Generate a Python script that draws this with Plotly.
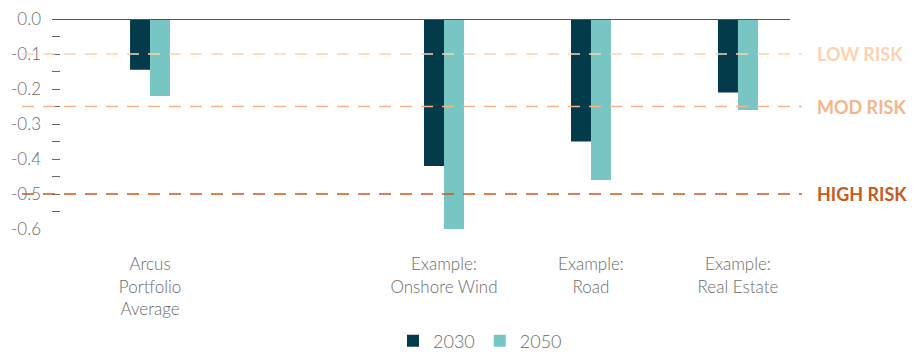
import plotly.graph_objects as go

categories = ["Arcus<br>Portfolio<br>Average", " ", "Example:<br>Onshore Wind", "Example:<br>Road", "Example:<br>Real Estate"]
series_names = ["2030", "2050"]
v2030 = [-0.145, None, -0.42, -0.35, -0.21]
v2050 = [-0.22, None, -0.60, -0.46, -0.26]
ytick_vals = [0, -0.1, -0.2, -0.3, -0.4, -0.5, -0.6]
ytick_text = ["0.0", "-0.1", "-0.2", "-0.3", "-0.4", "-0.5", "-0.6"]
risk_levels = [-0.1, -0.25, -0.5]
risk_labels = ["LOW RISK", "MOD RISK", "HIGH RISK"]
risk_colors = ["#fbd3b3", "#f5b58a", "#c85a1c"]

FONT = "Lato"
GRAY = "#6b6b6b"

fig = go.Figure()
fig.add_trace(go.Bar(x=categories, y=v2030, name=series_names[0], marker_color="#043b4b", marker_line_width=0))
fig.add_trace(go.Bar(x=categories, y=v2050, name=series_names[1], marker_color="#77c6c4", marker_line_width=0))

L, R = 52, 790
W = R - L
for lvl, lab, col in zip(risk_levels, risk_labels, risk_colors):
    fig.add_shape(type="line", xref="paper", yref="y", x0=(22 - L) / W, x1=(802 - L) / W,
                  y0=lvl, y1=lvl, line=dict(color=col, width=1.5, dash="12px,9px"), layer="above")
    fig.add_annotation(xref="paper", yref="y", x=(815 - L) / W, y=lvl, text="<b>" + lab + "</b>",
                       showarrow=False, xanchor="left", yanchor="middle",
                       font=dict(family=FONT, size=18, color=col, weight=900))

fig.add_shape(type="line", xref="paper", yref="y", x0=0, x1=1, y0=0, y1=0,
              line=dict(color="#555555", width=2), layer="above")

fig.update_layout(
    width=914, height=354,
    margin=dict(l=L, r=914 - R, t=19, b=354 - 229, autoexpand=False),
    paper_bgcolor="white", plot_bgcolor="white",
    barmode="group", bargap=0.728, bargroupgap=0,
    font=dict(family=FONT, size=17, color=GRAY, weight=300),
    showlegend=True,
    legend=dict(orientation="h", x=(480 - L) / W, xanchor="center", y=-0.445, yanchor="top",
                font=dict(family=FONT, size=18, color=GRAY, weight=300), itemwidth=30),
    xaxis=dict(type="category", categoryorder="array", categoryarray=categories,
               range=[-0.667, 4.354], showgrid=False, showline=False, zeroline=False,
               ticks="outside", ticklen=20, tickcolor="rgba(0,0,0,0)",
               tickfont=dict(family=FONT, size=17, color=GRAY, weight=300)),
    yaxis=dict(range=[-0.6, 0], tickmode="array", tickvals=ytick_vals, ticktext=ytick_text,
               showgrid=False, zeroline=False, showline=False,
               ticks="inside", ticklen=8, tickwidth=1, tickcolor="#666666",
               ticklabelstandoff=10,
               minor=dict(dtick=0.05, tick0=0, ticks="inside", ticklen=8, tickwidth=1, tickcolor="#666666"),
               tickfont=dict(family=FONT, size=17, color=GRAY, weight=300)),
)

fig.write_html("out.html")
